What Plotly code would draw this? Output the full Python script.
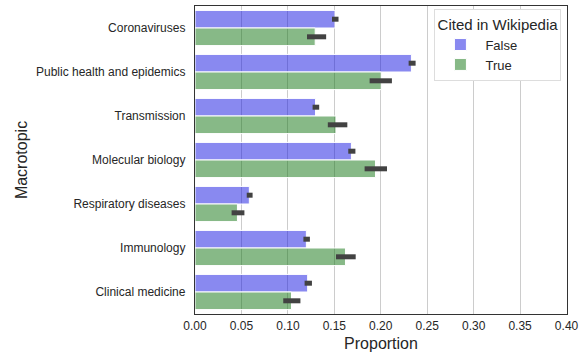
import plotly.graph_objects as go

categories = ["Coronaviruses", "Public health and epidemics", "Transmission",
              "Molecular biology", "Respiratory diseases", "Immunology", "Clinical medicine"]

false_vals = [0.1507, 0.2330, 0.1298, 0.1684, 0.0585, 0.1199, 0.1213]
false_lo = [0.1475, 0.2300, 0.1266, 0.1650, 0.0557, 0.1167, 0.1180]
false_hi = [0.1545, 0.2375, 0.1337, 0.1727, 0.0620, 0.1237, 0.1259]

true_vals = [0.1294, 0.2004, 0.1518, 0.1943, 0.0457, 0.1620, 0.1039]
true_lo = [0.1206, 0.1880, 0.1430, 0.1826, 0.0394, 0.1518, 0.0950]
true_hi = [0.1412, 0.2120, 0.1640, 0.2067, 0.0532, 0.1730, 0.1135]

x_ticks = [0.00, 0.05, 0.10, 0.15, 0.20, 0.25, 0.30, 0.35, 0.40]

def errs(vals, lo, hi):
    return ([h - v for v, h in zip(vals, hi)], [v - l for v, l in zip(vals, lo)])

fig = go.Figure()
for name, vals, lo, hi, col in [
    ("False", false_vals, false_lo, false_hi, "rgba(20,20,225,0.5)"),
    ("True", true_vals, true_lo, true_hi, "rgba(15,115,15,0.5)"),
]:
    plus, minus = errs(vals, lo, hi)
    fig.add_trace(go.Bar(
        y=categories, x=vals, name=name, orientation="h",
        marker=dict(color=col, line=dict(color="white", width=1)),
        error_x=dict(type="data", array=plus, arrayminus=minus,
                     color="#424242", thickness=5, width=0),
    ))

fig.update_layout(
    width=584, height=356,
    margin=dict(l=195, r=12, t=5, b=42),
    paper_bgcolor="white", plot_bgcolor="white",
    barmode="group", bargap=0.2, bargroupgap=0.0,
    font=dict(family="Liberation Sans, Arial, sans-serif", color="#262626", size=12),
    xaxis=dict(
        range=[0, 0.4005], tickvals=x_ticks, tickformat=".2f",
        showgrid=True, gridcolor="#cccccc", gridwidth=1,
        showline=True, linecolor="#333333", linewidth=1.3, mirror=True,
        ticks="", zeroline=False,
        title=dict(text="Proportion", font=dict(size=16), standoff=6),
        tickfont=dict(size=12),
    ),
    yaxis=dict(
        autorange="reversed", showgrid=False,
        showline=True, linecolor="#333333", linewidth=1.3, mirror=True,
        ticks="", ticklabelstandoff=6,
        title=dict(text="Macrotopic", font=dict(size=16), standoff=4),
        tickfont=dict(size=12),
    ),
    legend=dict(
        title=dict(text="Cited in Wikipedia", side="top center", font=dict(size=15)),
        x=0.985, y=0.99, xanchor="right", yanchor="top",
        bgcolor="white", bordercolor="#dddddd", borderwidth=1,
        font=dict(size=13), traceorder="normal", itemwidth=40,
    ),
)

fig.write_html("out.html")
